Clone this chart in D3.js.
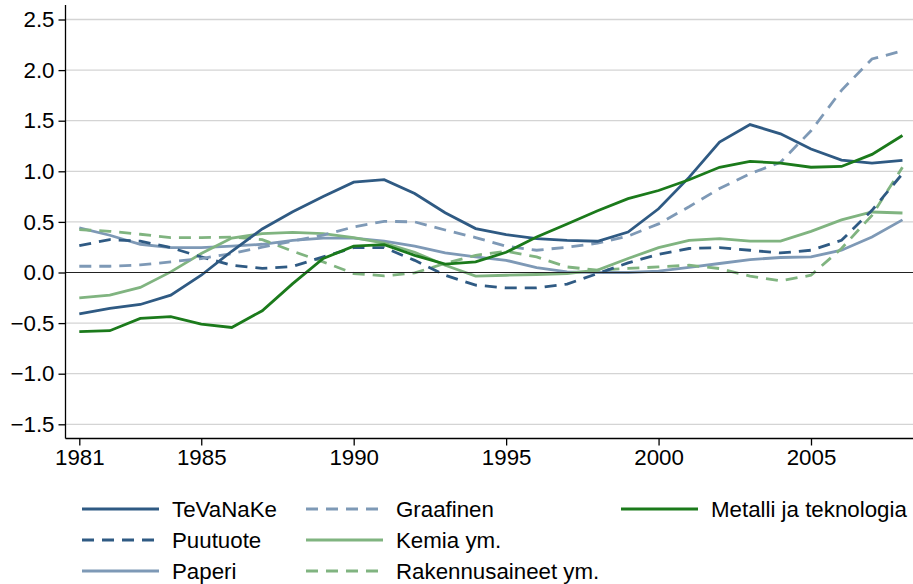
<!DOCTYPE html>
<html><head><meta charset="utf-8">
<script src="https://cdn.jsdelivr.net/npm/d3@7"></script>
<style>body{margin:0;background:#fff}svg{display:block;font-family:"Liberation Sans",Arial,sans-serif}</style>
</head><body><svg id="c" width="913" height="584"></svg>
<script>
const years = d3.range(1981, 2009);
const xTicks = [1981, 1985, 1990, 1995, 2000, 2005];
const yTicks = [-1.5, -1.0, -0.5, 0.0, 0.5, 1.0, 1.5, 2.0, 2.5];

const teVaNaKe = [-0.41,-0.355,-0.316,-0.224,-0.027,0.21,0.43,0.60,0.75,0.893,0.917,0.78,0.59,0.434,0.375,0.335,0.318,0.309,0.40,0.63,0.94,1.288,1.462,1.37,1.22,1.11,1.08,1.107];
const graafinen = [0.062,0.062,0.075,0.105,0.138,0.187,0.25,0.31,0.37,0.45,0.506,0.50,0.42,0.345,0.26,0.22,0.25,0.29,0.36,0.48,0.65,0.83,0.976,1.09,1.40,1.80,2.11,2.19];
const metalli = [-0.585,-0.575,-0.454,-0.437,-0.51,-0.543,-0.378,-0.11,0.138,0.26,0.276,0.17,0.082,0.105,0.2,0.35,0.48,0.61,0.73,0.81,0.917,1.04,1.098,1.08,1.04,1.048,1.167,1.354];
const puutuote = [0.266,0.325,0.31,0.246,0.154,0.072,0.04,0.06,0.154,0.246,0.246,0.12,-0.027,-0.125,-0.152,-0.152,-0.115,-0.01,0.095,0.18,0.237,0.246,0.22,0.193,0.22,0.318,0.614,0.976];
const kemia = [-0.25,-0.224,-0.148,0.006,0.187,0.34,0.385,0.397,0.385,0.345,0.29,0.2,0.072,-0.036,-0.027,-0.02,-0.01,0.023,0.138,0.246,0.318,0.335,0.31,0.31,0.407,0.52,0.598,0.588];
const paperi = [0.44,0.368,0.279,0.246,0.246,0.26,0.279,0.318,0.34,0.34,0.31,0.26,0.193,0.154,0.12,0.049,0.006,0.0,0.0,0.013,0.05,0.089,0.128,0.148,0.154,0.22,0.35,0.52];
const rakennus = [0.424,0.407,0.378,0.345,0.345,0.35,0.325,0.21,0.105,-0.01,-0.033,-0.004,0.09,0.17,0.21,0.154,0.055,0.023,0.04,0.055,0.072,0.039,-0.036,-0.083,-0.027,0.237,0.565,1.04];

const dark = "#2f5a83", light = "#7e99b6", dgreen = "#1b7a1b", lgreen = "#80b480";
// legend order, column by column (3 rows per column)
const series = [
  {name:"TeVaNaKe", v:teVaNaKe, c:dark, dash:null},
  {name:"Puutuote", v:puutuote, c:dark, dash:"12 8"},
  {name:"Paperi", v:paperi, c:light, dash:null},
  {name:"Graafinen", v:graafinen, c:light, dash:"12 8"},
  {name:"Kemia ym.", v:kemia, c:lgreen, dash:null},
  {name:"Rakennusaineet ym.", v:rakennus, c:lgreen, dash:"12 8"},
  {name:"Metalli ja teknologia", v:metalli, c:dgreen, dash:null}
];

const svg = d3.select("#c");
const x = d3.scaleLinear().domain([1981, 2005]).range([79.3, 811]);
const y = d3.scaleLinear().domain([-1.5, 2.5]).range([424.3, 19.5]);
const pLeft = 65.5, pBottom = 438.5, pTop = 5, pRight = 913;
const fs = 22.3;

svg.append("g").selectAll("line").data(yTicks.filter(d => d !== 0)).join("line")
  .attr("x1", pLeft).attr("x2", pRight).attr("y1", d => y(d)).attr("y2", d => y(d))
  .attr("stroke", "#d4d4d4").attr("stroke-width", 1.3);

const line = d3.line().x((d,i) => x(years[i])).y(d => y(d));
const drawOrder = [2,4,5,1,3,0,6];
svg.append("g").selectAll("path").data(drawOrder.map(i => series[i])).join("path")
  .attr("d", s => line(s.v)).attr("fill", "none").attr("stroke", s => s.c)
  .attr("stroke-width", 2.8).attr("stroke-dasharray", s => s.dash);

svg.append("line").attr("x1", pLeft).attr("x2", pRight).attr("y1", y(0)).attr("y2", y(0))
  .attr("stroke", "#222").attr("stroke-width", 1.2);

const yAxis = d3.axisLeft(y).tickValues(yTicks).tickSize(7).tickPadding(4)
  .tickFormat(d => d3.format(".1f")(d).replace("-", "\u2212"));
const gy = svg.append("g").attr("transform", `translate(${pLeft},0)`).call(yAxis);
gy.select(".domain").remove();
gy.append("line").attr("x1",0).attr("x2",0).attr("y1",pTop).attr("y2",pBottom).attr("stroke","#000").attr("stroke-width",1.3);
gy.selectAll(".tick line").attr("stroke","#000").attr("stroke-width",1.3);
gy.selectAll("text").attr("font-size", fs).attr("fill","#000").attr("font-family","Liberation Sans, Arial, sans-serif");

const xAxis = d3.axisBottom(x).tickValues(xTicks).tickSize(7).tickPadding(4).tickFormat(d3.format("d"));
const gx = svg.append("g").attr("transform", `translate(0,${pBottom})`).call(xAxis);
gx.select(".domain").remove();
gx.append("line").attr("x1",pLeft).attr("x2",pRight).attr("y1",0).attr("y2",0).attr("stroke","#000").attr("stroke-width",1.3);
gx.selectAll(".tick line").attr("stroke","#000").attr("stroke-width",1.3);
gx.selectAll("text").attr("font-size", fs).attr("fill","#000").attr("font-family","Liberation Sans, Arial, sans-serif");

const colX = [82, 306, 621], rowY = [509, 540, 571];
const lg = svg.append("g");
series.forEach((s, i) => {
  const cx = colX[Math.floor(i / 3)], cy = rowY[i % 3];
  lg.append("line").attr("x1", cx).attr("x2", cx + 77).attr("y1", cy).attr("y2", cy)
    .attr("stroke", s.c).attr("stroke-width", 2.8).attr("stroke-dasharray", s.dash);
  lg.append("text").attr("x", cx + 90).attr("y", cy).attr("dy", "0.35em")
    .attr("font-size", fs).attr("fill", "#000").text(s.name);
});
</script></body></html>
